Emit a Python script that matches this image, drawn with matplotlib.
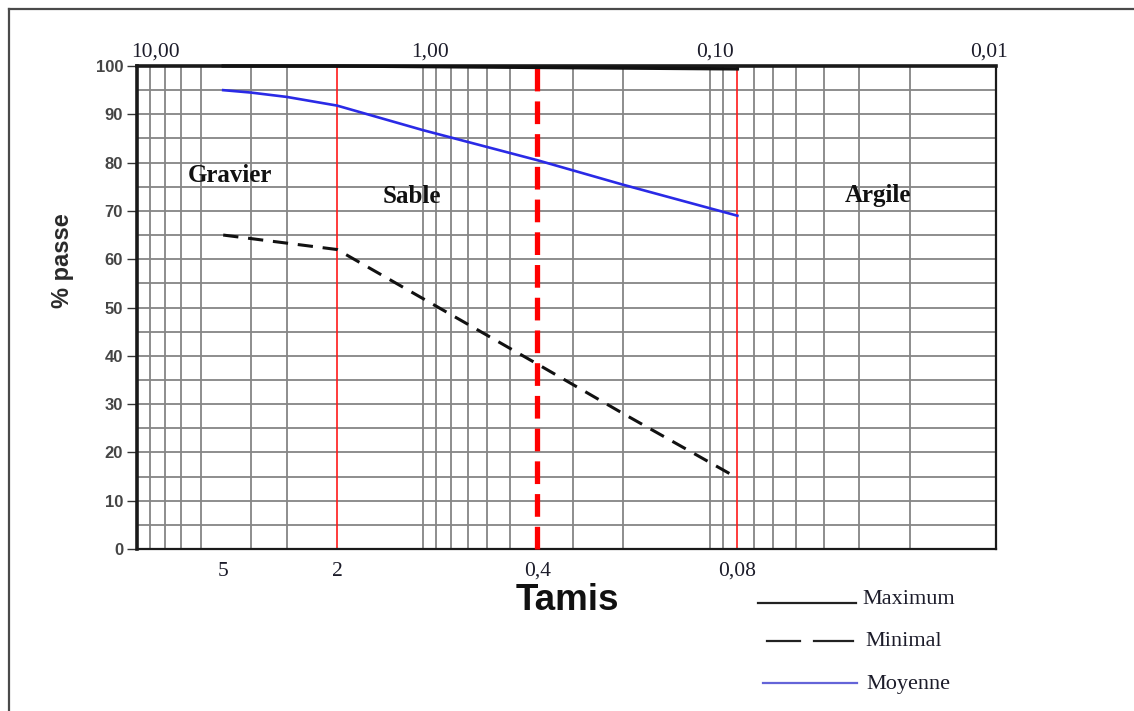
import numpy as np
import matplotlib
matplotlib.use("Agg")
import matplotlib.pyplot as plt
from matplotlib.lines import Line2D
from matplotlib.ticker import NullFormatter
import matplotlib.transforms as mtransforms

# Sieve openings (mm) and percentage passing for each envelope curve
sieves_moy = [5, 4, 3, 2, 1, 0.4, 0.2, 0.08]
moyenne = [95.0, 94.5, 93.6, 91.8, 86.7, 80.5, 75.4, 69.0]

sieves_min = [5, 2, 1, 0.4, 0.2, 0.08]
minimal = [65.0, 62.0, 51.8, 38.3, 28.0, 14.7]

sieves_max = [5, 2, 0.4, 0.08]
maximum = [100.0, 100.0, 99.7, 99.4]

# Class boundaries (mm)
limits_solid = [2, 0.08]
limit_dashed = 0.4

bottom_ticks = [5, 2, 0.4, 0.08]
bottom_labels = ["5", "2", "0,4", "0,08"]
top_ticks = [10, 1, 0.1, 0.01]
top_labels = ["10,00", "1,00", "0,10", "0,01"]
y_ticks = list(range(0, 101, 10))

zones = ["Gravier", "Sable", "Argile"]
zone_x = [4.73, 1.10, 0.0258]
zone_y = [77.4, 72.9, 73.1]

legend_labels = ["Maximum", "Minimal", "Moyenne"]

W, H = 1134, 711
SERIF = "Liberation Serif"
SANS = "Liberation Sans"
GRID = "#858585"
INK = "#1c1c2a"

fig = plt.figure(figsize=(W / 100, H / 100), dpi=100)
fig.patch.set_facecolor("white")
ax = fig.add_axes([137 / W, 1 - 549 / H, (996 - 137) / W, (549 - 66) / H])

ax.set_xscale("log")
ax.set_xlim(10, 0.01)
ax.set_ylim(0, 100)

# log grid: every 1..9 x 10^n over the three decades
grid_x = np.outer(np.arange(1, 10), [0.01, 0.1, 1.0]).ravel()
ax.set_xticks(grid_x, minor=True)
ax.xaxis.set_minor_formatter(NullFormatter())
ax.set_xticks(bottom_ticks)
ax.set_xticklabels(bottom_labels, fontfamily=SERIF, fontsize=15.5, color=INK)
ax.tick_params(axis="x", which="both", length=0, pad=9)
ax.set_yticks(y_ticks)
ax.set_yticks(np.arange(0, 101, 5), minor=True)
ax.set_yticklabels([str(v) for v in y_ticks], fontfamily=SANS, fontweight="bold",
                   fontsize=12, color="#454545")
ax.tick_params(axis="y", which="major", length=7, width=1.0, color="#333333",
               direction="out", pad=3)
ax.tick_params(axis="y", which="minor", length=0)

ax.grid(axis="x", which="minor", color=GRID, lw=1.3, zorder=0)
ax.grid(axis="x", which="major", visible=False)
ax.grid(axis="y", which="both", color=GRID, lw=1.3, zorder=0)
ax.set_axisbelow(True)

for side, lw in (("left", 2.6), ("top", 2.6), ("right", 1.6), ("bottom", 1.6)):
    ax.spines[side].set_linewidth(lw)
    ax.spines[side].set_color("#1a1a1a")

# class boundaries
for v in limits_solid:
    ax.axvline(v, color="#ff1a1a", lw=1.2, zorder=2)
ax.plot([limit_dashed, limit_dashed], [0, 101], color="#ff0000", lw=3.8,
        dashes=(4.3, 1.9), zorder=3, clip_on=False, solid_capstyle="butt",
        dash_capstyle="butt")

# envelope curves
ax.plot(sieves_max, maximum, color="#111111", lw=2.4, zorder=4, clip_on=False)
ax.plot(sieves_min, minimal, color="#111111", lw=2.2, dashes=(5.0, 3.2), zorder=4)
ax.plot(sieves_moy, moyenne, color="#2a2ae6", lw=1.9, zorder=4)

for name, zx, zy in zip(zones, zone_x, zone_y):
    ax.text(zx, zy, name, fontfamily=SERIF, fontweight="bold", fontsize=18,
            ha="center", va="center", color="#111111", zorder=5)

# sieve scale printed along the top edge
blend = mtransforms.blended_transform_factory(ax.transData, ax.transAxes)
top_dx = [18, 7, 5, -7]
for v, lab, dx in zip(top_ticks, top_labels, top_dx):
    off = mtransforms.offset_copy(blend, fig=fig, x=dx, y=-3, units="dots")
    ax.text(v, 1.035, lab, transform=off, ha="center", va="center",
            fontfamily=SERIF, fontsize=15.5, color=INK)

fig.text(62 / W, 1 - 261 / H, "% passe", rotation=90, ha="center", va="center",
         fontfamily=SANS, fontweight="bold", fontsize=17, color="#2a2a2a")
fig.text(567 / W, 1 - 601 / H, "Tamis", ha="center", va="center",
         fontfamily=SANS, fontweight="bold", fontsize=26.5, color="#111111")

# hand-drawn legend below the plot
def fx(px):
    return px / W

def fy(py):
    return 1 - py / H

fig.add_artist(Line2D([fx(758), fx(856)], [fy(603), fy(603)], color="#222222",
                      lw=1.6, transform=fig.transFigure))
fig.add_artist(Line2D([fx(767), fx(800)], [fy(641), fy(641)], color="#222222",
                      lw=1.6, transform=fig.transFigure))
fig.add_artist(Line2D([fx(814), fx(853)], [fy(641), fy(641)], color="#222222",
                      lw=1.6, transform=fig.transFigure))
fig.add_artist(Line2D([fx(763), fx(857)], [fy(683), fy(683)], color="#6464d8",
                      lw=1.6, transform=fig.transFigure))
for lab, px, py in zip(legend_labels, [862, 865, 866], [600, 642, 684]):
    fig.text(fx(px), fy(py), lab, ha="left", va="center", fontfamily=SERIF,
             fontsize=16, color=INK)

# frame around the figure (top and left edges)
fig.add_artist(Line2D([fx(9), fx(W)], [fy(9), fy(9)], color="#4a4a4a", lw=1.6,
                      transform=fig.transFigure))
fig.add_artist(Line2D([fx(9), fx(9)], [fy(9), fy(H)], color="#4a4a4a", lw=1.6,
                      transform=fig.transFigure))

fig.savefig("out.png", dpi=100, facecolor="white")
